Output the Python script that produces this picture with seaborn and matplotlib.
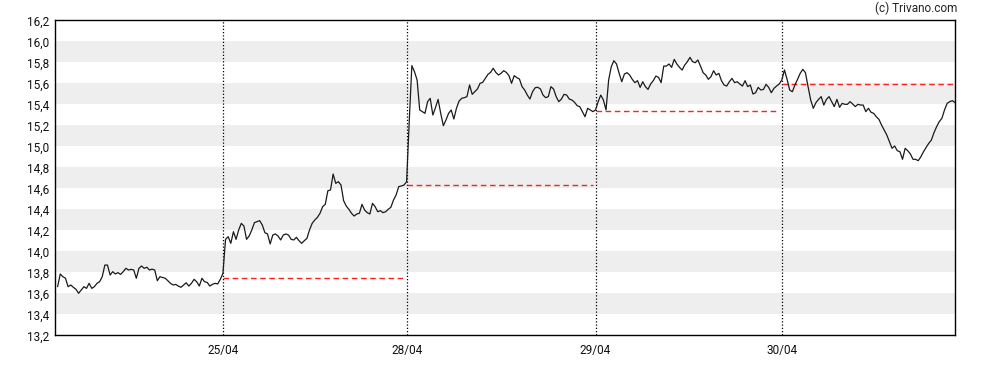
import numpy as np
import pandas as pd
import matplotlib
matplotlib.use("Agg")
import matplotlib.pyplot as plt
import seaborn as sns

# ---- data ----
day_names = ["24/04", "25/04", "28/04", "29/04", "30/04"]

day1 = [13.663, 13.784, 13.758, 13.743, 13.663, 13.679, 13.657, 13.638, 13.600, 13.631,
        13.663, 13.647, 13.695, 13.647, 13.663, 13.695, 13.710, 13.758, 13.869, 13.869,
        13.774, 13.806, 13.784, 13.797, 13.780, 13.806, 13.838, 13.822, 13.828, 13.822,
        13.743, 13.838, 13.860, 13.838, 13.848, 13.822, 13.830, 13.822, 13.720, 13.758,
        13.750, 13.743, 13.720, 13.695, 13.679, 13.685, 13.669, 13.657, 13.679, 13.700,
        13.669, 13.695, 13.733, 13.710, 13.669, 13.743, 13.710, 13.704, 13.669, 13.685,
        13.695, 13.689, 13.733]

day2 = [13.79, 14.114, 14.139, 14.076, 14.187, 14.114, 14.203, 14.266, 14.241, 14.114,
        14.146, 14.203, 14.273, 14.282, 14.292, 14.25, 14.177, 14.165, 14.07, 14.155,
        14.165, 14.146, 14.108, 14.155, 14.165, 14.155, 14.114, 14.108, 14.133, 14.101,
        14.076, 14.101, 14.123, 14.203, 14.266, 14.298, 14.323, 14.362, 14.425, 14.447,
        14.577, 14.584, 14.736, 14.647, 14.663, 14.631, 14.482, 14.431, 14.4, 14.362,
        14.336, 14.355, 14.362, 14.447, 14.393, 14.368, 14.355, 14.457, 14.425, 14.377,
        14.387, 14.368, 14.377, 14.4, 14.419, 14.488, 14.536, 14.616, 14.622, 14.631]

day3 = [14.663, 15.235, 15.768, 15.711, 15.631, 15.346, 15.33, 15.314, 15.425, 15.457,
        15.298, 15.368, 15.447, 15.314, 15.196, 15.25, 15.314, 15.346, 15.26, 15.362,
        15.431, 15.457, 15.463, 15.473, 15.584, 15.495, 15.52, 15.546, 15.6, 15.609,
        15.647, 15.685, 15.704, 15.743, 15.704, 15.679, 15.695, 15.72, 15.704, 15.673,
        15.6, 15.673, 15.654, 15.641, 15.568, 15.536, 15.488, 15.45, 15.52, 15.558,
        15.562, 15.546, 15.488, 15.463, 15.473, 15.568, 15.546, 15.473, 15.425, 15.45,
        15.495, 15.488, 15.45, 15.441, 15.419, 15.387, 15.377, 15.33, 15.282, 15.362,
        15.346, 15.33]

day4 = [15.346, 15.425, 15.488, 15.441, 15.346, 15.631, 15.758, 15.815, 15.784, 15.695,
        15.615, 15.688, 15.701, 15.679, 15.638, 15.606, 15.625, 15.561, 15.615, 15.568,
        15.542, 15.593, 15.625, 15.669, 15.657, 15.606, 15.764, 15.764, 15.784, 15.752,
        15.828, 15.784, 15.752, 15.726, 15.774, 15.806, 15.847, 15.806, 15.796, 15.822,
        15.764, 15.701, 15.679, 15.638, 15.663, 15.72, 15.679, 15.695, 15.625, 15.584,
        15.574, 15.615, 15.647, 15.606, 15.615, 15.593, 15.574, 15.625, 15.568, 15.584,
        15.498, 15.51, 15.561, 15.536, 15.542, 15.59, 15.561, 15.51, 15.552, 15.574,
        15.593]

day5 = [15.632, 15.727, 15.638, 15.536, 15.52, 15.584, 15.638, 15.695, 15.733, 15.701,
        15.568, 15.441, 15.362, 15.416, 15.447, 15.473, 15.393, 15.447, 15.473, 15.425,
        15.378, 15.447, 15.371, 15.409, 15.4, 15.4, 15.425, 15.403, 15.378, 15.4,
        15.393, 15.393, 15.33, 15.362, 15.324, 15.314, 15.282, 15.257, 15.203, 15.155,
        15.108, 15.044, 14.981, 15.003, 14.958, 14.949, 14.876, 14.981, 14.958, 14.927,
        14.876, 14.876, 14.863, 14.901, 14.949, 14.99, 15.028, 15.06, 15.13, 15.187,
        15.235, 15.266, 15.346, 15.409, 15.425, 15.435, 15.416]

prev_close = [13.75, 14.63, 15.335, 15.59]   # previous-day close for days 2..5

y_ticks = [13.2, 13.4, 13.6, 13.8, 14.0, 14.2, 14.4, 14.6, 14.8, 15.0,
           15.2, 15.4, 15.6, 15.8, 16.0, 16.2]
y_tick_labels = [f"{v:.1f}".replace(".", ",") for v in y_ticks]

days = [day1, day2, day3, day4, day5]

# ---- build table ----
rows = []
idx = 0
starts, ends = [], []
for name, vals in zip(day_names, days):
    starts.append(idx)
    for v in vals:
        rows.append({"i": idx, "price": v, "day": name})
        idx += 1
    ends.append(idx - 1)
df = pd.DataFrame(rows)

# ---- plot ----
sns.set_style("white")
plt.rcParams["font.family"] = ["Roboto", "DejaVu Sans"]

fig = plt.figure(figsize=(9.88, 3.70), dpi=100)
ax = fig.add_axes([55 / 988, (370 - 335.3) / 370, 900 / 988, 315 / 370])

# alternating bands
for k in range(len(y_ticks) - 1):
    if k % 2 == 1:
        ax.axhspan(y_ticks[k], y_ticks[k + 1], color="#eeeeee", lw=0, zorder=0)

# day separators
for s in starts[1:]:
    ax.axvline(s, color="black", lw=0.9, ls=(0, (1, 1.6)), zorder=1)

# previous close lines
for d, pc in enumerate(prev_close, start=1):
    ax.hlines(pc, starts[d], ends[d], colors="#ff2020", lw=1.0,
              linestyles=(0, (4, 2.6)), zorder=2)

sns.lineplot(data=df, x="i", y="price", ax=ax, color="#1a1a1a", lw=0.9,
             zorder=3, estimator=None, sort=False)

ax.set_xlim(-1, ends[-1])
ax.set_ylim(13.2, 16.2)
ax.set_yticks(y_ticks)
ax.set_yticklabels(y_tick_labels)
ax.set_xticks(starts[1:])
ax.set_xticklabels(day_names[1:])
ax.set_xlabel("")
ax.set_ylabel("")
ax.tick_params(axis="both", labelsize=8.5, length=2.5, width=0.8,
               color="black", labelcolor="#111111", pad=2, direction="out")
ax.tick_params(axis="x", pad=4)
for sp in ax.spines.values():
    sp.set_visible(True)
    sp.set_color("black")
    sp.set_linewidth(1.0)

fig.text(957 / 988, 1 - 8.5 / 370, "(c) Trivano.com", ha="right", va="center",
         fontsize=8.5, color="#222222")

fig.savefig("out.png", dpi=100)
